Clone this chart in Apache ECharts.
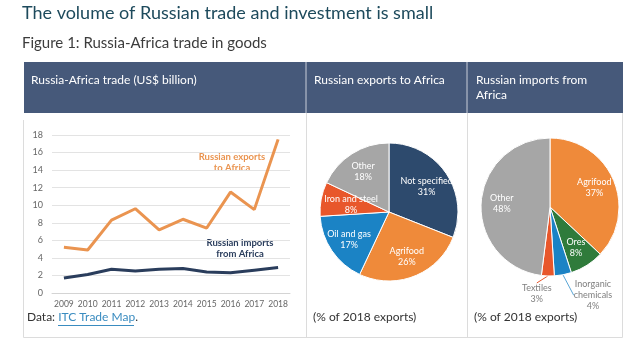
<!DOCTYPE html>
<html>
<head>
<meta charset="utf-8">
<script src="https://cdn.jsdelivr.net/npm/echarts@6/dist/echarts.min.js"></script>
<style>
  html, body { margin: 0; padding: 0; background: #ffffff; }
  #chart { width: 638px; height: 348px; }
</style>
</head>
<body>
<div id="chart"></div>
<script>
// Russia-Africa trade, US$ billion
const years = ['2009', '2010', '2011', '2012', '2013', '2014', '2015', '2016', '2017', '2018'];
const exportsToAfrica = [5.2, 4.9, 8.3, 9.6, 7.2, 8.4, 7.4, 11.5, 9.5, 17.5];
const importsFromAfrica = [1.7, 2.1, 2.7, 2.5, 2.7, 2.8, 2.4, 2.3, 2.6, 2.9];
const yTicks = { min: 0, max: 18, interval: 2 };

// Composition of 2018 trade, % shares
const exportCategories = ['Not specified', 'Agrifood', 'Oil and gas', 'Iron and steel', 'Other'];
const exportShares = [31, 26, 17, 8, 18];
const importCategories = ['Agrifood', 'Ores', 'Inorganic\nchemicals', 'Textiles', 'Other'];
const importShares = [37, 8, 4, 3, 48];

const FONT = 'Lato, "Open Sans", sans-serif';
const C = {
  navy: '#2d4a6d', orange: '#ef8a3a', blue: '#1b83c5', red: '#e8572b',
  gray: '#a6a6a6', green: '#2f7b3b', band: '#46597a', lineOrange: '#ea9450',
  lineNavy: '#2a3d5c', border: '#dcdcdc'
};
const exportColors = [C.navy, C.orange, C.blue, C.red, C.gray];
const importColors = [C.orange, C.green, C.blue, C.red, C.gray];

const PIE_R = 69;
const pie1Center = [389, 212];
const pie2Center = [550, 207];

// Places inside labels along each slice's mid angle (fraction of the radius),
// and outside labels just beyond the rim with an offset
function pieLabelLayout(values, center, radial, outside) {
  const total = values.reduce((a, b) => a + b, 0);
  return function (params) {
    const i = params.dataIndex;
    let cum = 0;
    for (let k = 0; k < i; k++) cum += values[k];
    const theta = 2 * Math.PI * (cum + values[i] / 2) / total;
    const sx = Math.sin(theta), cy = -Math.cos(theta);
    if (outside && outside[i]) {
      const o = outside[i];
      return {
        x: center[0] + PIE_R * sx + o.dx,
        y: center[1] + PIE_R * cy + o.dy,
        align: o.align, verticalAlign: 'top'
      };
    }
    const f = (radial && radial[i]) || 0.7;
    return {
      x: center[0] + f * PIE_R * sx,
      y: center[1] + f * PIE_R * cy,
      align: 'center', verticalAlign: 'middle'
    };
  };
}

const chart = echarts.init(document.getElementById('chart'), null, { renderer: 'canvas' });

const headerText = (x, y, text) => ({
  type: 'text', left: x, top: y, silent: true,
  style: { text: text, fill: '#ffffff', font: '12px ' + FONT, lineHeight: 15 }
});

chart.setOption({
  animation: false,
  backgroundColor: '#ffffff',
  textStyle: { fontFamily: FONT },
  graphic: [
    { type: 'text', left: 22, top: 4, style: { text: 'The volume of Russian trade and investment is small', fill: '#1d4a5c', font: '18px ' + FONT } },
    { type: 'text', left: 22, top: 36, style: { text: 'Figure 1: Russia-Africa trade in goods', fill: '#3c3c3c', font: '15px ' + FONT } },
    // header band
    { type: 'rect', shape: { x: 24, y: 62, width: 599, height: 51 }, style: { fill: C.band } },
    { type: 'line', shape: { x1: 306, y1: 62, x2: 306, y2: 113 }, style: { stroke: '#c9cfd9', lineWidth: 1 } },
    { type: 'line', shape: { x1: 467, y1: 62, x2: 467, y2: 113 }, style: { stroke: '#c9cfd9', lineWidth: 1 } },
    headerText(31, 73, 'Russia-Africa trade (US$ billion)'),
    headerText(314, 73, 'Russian exports to Africa'),
    headerText(476, 73, 'Russian imports from\nAfrica'),
    // panel frames
    { type: 'line', shape: { x1: 23.5, y1: 120, x2: 23.5, y2: 337.5 }, style: { stroke: C.border } },
    { type: 'line', shape: { x1: 306.5, y1: 113, x2: 306.5, y2: 337.5 }, style: { stroke: C.border } },
    { type: 'line', shape: { x1: 467.5, y1: 113, x2: 467.5, y2: 337.5 }, style: { stroke: C.border } },
    { type: 'line', shape: { x1: 622.5, y1: 113, x2: 622.5, y2: 337.5 }, style: { stroke: C.border } },
    { type: 'line', shape: { x1: 23.5, y1: 337.5, x2: 622.5, y2: 337.5 }, style: { stroke: C.border } },
    // line chart annotations
    { type: 'text', x: 232, y: 151, style: { text: 'Russian exports\nto Africa', fill: C.lineOrange, font: 'bold 9.5px ' + FONT, lineHeight: 11, align: 'center', verticalAlign: 'top' } },
    { type: 'text', x: 240, y: 237, style: { text: 'Russian imports\nfrom Africa', fill: C.lineNavy, font: 'bold 9.5px ' + FONT, lineHeight: 11, align: 'center', verticalAlign: 'top' } },
    // source note
    { type: 'text', left: 27, top: 311, style: { text: 'Data: {l|ITC Trade Map}.', fill: '#333333', font: '12px ' + FONT, rich: { l: { fill: '#3a8cc0', font: '12px ' + FONT } } } },
    { type: 'line', shape: { x1: 58, y1: 325.5, x2: 134, y2: 325.5 }, style: { stroke: '#3a8cc0', lineWidth: 1 } },
    { type: 'text', left: 313, top: 311, style: { text: '(% of 2018 exports)', fill: '#333333', font: '12px ' + FONT } },
    { type: 'text', left: 474, top: 311, style: { text: '(% of 2018 exports)', fill: '#333333', font: '12px ' + FONT } }
  ],
  grid: { left: 52, right: 348, top: 135, bottom: 55, containLabel: false },
  xAxis: {
    type: 'category', data: years, boundaryGap: true,
    axisLine: { show: true, lineStyle: { color: '#d4d4d4' } },
    axisTick: { show: false },
    axisLabel: { color: '#666666', fontSize: 8.5, margin: 7, interval: 0, fontFamily: FONT }
  },
  yAxis: {
    type: 'value', min: yTicks.min, max: yTicks.max, interval: yTicks.interval,
    axisLine: { show: false }, axisTick: { show: false },
    axisLabel: { color: '#666666', fontSize: 9, margin: 9, fontFamily: FONT },
    splitLine: { lineStyle: { color: '#e3e3e3' } }
  },
  series: [
    {
      type: 'line', name: 'Russian exports to Africa', data: exportsToAfrica,
      symbol: 'none', lineStyle: { color: C.lineOrange, width: 3 }, z: 3
    },
    {
      type: 'line', name: 'Russian imports from Africa', data: importsFromAfrica,
      symbol: 'none', lineStyle: { color: C.lineNavy, width: 3 }, z: 3
    },
    {
      type: 'pie', center: pie1Center, radius: [0, PIE_R], startAngle: 90, clockwise: true,
      data: exportCategories.map((n, i) => ({ name: n, value: exportShares[i], itemStyle: { color: exportColors[i] } })),
      itemStyle: { borderColor: '#ffffff', borderWidth: 1 },
      label: { show: true, position: 'inside', color: '#ffffff', fontSize: 9, lineHeight: 11, fontFamily: FONT,
               formatter: p => p.name + '\n' + p.value + '%' },
      labelLine: { show: false },
      labelLayout: pieLabelLayout(exportShares, pie1Center, { 0: 0.66, 3: 0.56 }),
      emphasis: { disabled: true }
    },
    {
      type: 'pie', center: pie2Center, radius: [0, PIE_R], startAngle: 90, clockwise: true,
      data: importCategories.map((n, i) => {
        const outer = i === 2 || i === 3;
        return {
          name: n, value: importShares[i], itemStyle: { color: importColors[i] },
          label: outer ? { position: 'outside', color: '#7f7f7f', align: 'center' } : { position: 'inside' },
          labelLine: { show: outer, length: 6, length2: 0, lineStyle: { color: i === 2 ? '#5aa6d6' : '#e8572b', width: 1 } }
        };
      }),
      itemStyle: { borderColor: '#ffffff', borderWidth: 1 },
      label: { show: true, color: '#ffffff', fontSize: 9, lineHeight: 11, fontFamily: FONT,
               formatter: p => p.name + '\n' + p.value + '%' },
      labelLayout: pieLabelLayout(importShares, pie2Center, null, {
        2: { dx: 30, dy: 4, align: 'center' },
        3: { dx: -11, dy: 7, align: 'center' }
      }),
      emphasis: { disabled: true }
    }
  ]
});
</script>
</body>
</html>
